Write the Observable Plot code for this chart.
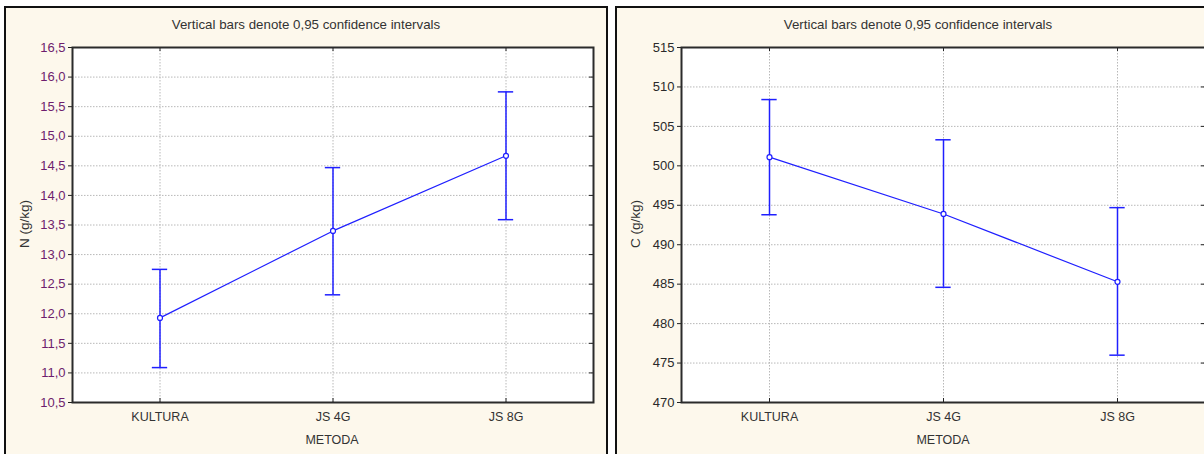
<!DOCTYPE html>
<html><head><meta charset="utf-8">
<script src="https://cdn.jsdelivr.net/npm/d3@7"></script>
<script src="https://cdn.jsdelivr.net/npm/@observablehq/plot@0.6"></script>
<style>
html,body{margin:0;padding:0;}
body{background:#fff;width:1204px;height:454px;overflow:hidden;position:relative;font-family:"Liberation Sans",Arial,sans-serif;}
.panel{position:absolute;top:6px;height:470px;box-sizing:border-box;border:2px solid #111;background:#fdf8ec;}
.chart{position:absolute;top:0;}
.chart svg{max-width:none !important;}
.lbl{position:absolute;white-space:nowrap;color:#333;line-height:1;}
.title{font-size:13.3px;transform:translate(-50%,-50%);}
.xt{font-size:12.5px;transform:translate(-50%,-50%);}
.yt{font-size:13.5px;transform:translate(-50%,-50%) rotate(-90deg);}
</style>
</head><body>
<div class="panel" style="left:4px;width:604px;"></div>
<div class="panel" style="left:615px;width:700px;"></div>
<div id="c1" class="chart" style="left:0px;width:607px;"></div>
<div id="c2" class="chart" style="left:610px;width:600px;"></div>
<div class="lbl title" style="left:306px;top:25px;">Vertical bars denote 0,95 confidence intervals</div>
<div class="lbl title" style="left:918px;top:25px;">Vertical bars denote 0,95 confidence intervals</div>
<div class="lbl xt" style="left:332px;top:440px;">METODA</div>
<div class="lbl xt" style="left:943px;top:440px;">METODA</div>
<div class="lbl yt" style="left:25px;top:224px;">N (g/kg)</div>
<div class="lbl yt" style="left:636px;top:224px;">C (g/kg)</div>
<script>
const methods = ["KULTURA", "JS 4G", "JS 8G"];
const nMean = [11.93, 13.40, 14.67];
const nLow  = [11.09, 12.32, 13.59];
const nHigh = [12.75, 14.47, 15.75];
const cMean = [501.1, 493.9, 485.3];
const cLow  = [493.8, 484.6, 476.0];
const cHigh = [508.4, 503.3, 494.7];
const nTicks = [10.5, 11.0, 11.5, 12.0, 12.5, 13.0, 13.5, 14.0, 14.5, 15.0, 15.5, 16.0, 16.5];
const cTicks = [470, 475, 480, 485, 490, 495, 500, 505, 510, 515];

const blue = "#1f1fff";

function chart({mean, low, high, ticks, fmt, width, ml, mr, tickColor}) {
  const data = methods.map((m, i) => ({m, mean: mean[i], low: low[i], high: high[i]}));
  const mt = 47, mb = 52, height = 454;
  const W = width - ml - mr, H = height - mt - mb;
  const capInset = W / methods.length / 2 - 8;
  return Plot.plot({
    width, height,
    marginLeft: ml, marginRight: mr, marginTop: mt, marginBottom: mb,
    style: {background: "transparent", overflow: "visible", maxWidth: "none", fontFamily: "'Liberation Sans', Arial, sans-serif"},
    x: {type: "band", domain: methods, padding: 0, axis: null},
    y: {domain: [ticks[0], ticks[ticks.length - 1]], axis: null},
    marks: [
      Plot.frame({fill: "white"}),
      Plot.gridY(ticks, {stroke: "#b8b8b8", strokeOpacity: 1, strokeDasharray: "1.5,1.5"}),
      Plot.gridX(methods, {stroke: "#b8b8b8", strokeOpacity: 1, strokeDasharray: "1.5,1.5"}),
      Plot.ruleY(ticks, {stroke: "#222", insetLeft: W - 4}),
      Plot.ruleX(methods, {stroke: "#222", insetTop: H - 4}),
      Plot.ruleX(methods, {stroke: "#222", insetBottom: H - 4}),
      Plot.axisY(ticks, {tickSize: 4, tickPadding: 3, tickFormat: fmt, fontSize: 13, fill: tickColor, stroke: "#222", label: null}),
      Plot.axisX(methods, {tickSize: 0, tickPadding: 10, fontSize: 12.5, fill: "#333", label: null}),
      Plot.ruleX(data, {x: "m", y1: "low", y2: "high", stroke: blue, strokeWidth: 1.5}),
      Plot.tickY(data, {x: "m", y: "low", insetLeft: capInset, insetRight: capInset, stroke: blue, strokeWidth: 1.5}),
      Plot.tickY(data, {x: "m", y: "high", insetLeft: capInset, insetRight: capInset, stroke: blue, strokeWidth: 1.5}),
      Plot.line(data, {x: "m", y: "mean", stroke: blue, strokeWidth: 1.2}),
      Plot.dot(data, {x: "m", y: "mean", r: 2.5, fill: "white", stroke: blue, strokeWidth: 1.2}),
      Plot.frame({stroke: "#2b2b2b", strokeWidth: 2})
    ]
  });
}

document.getElementById("c1").append(chart({
  mean: nMean, low: nLow, high: nHigh, ticks: nTicks,
  fmt: d => d.toFixed(1).replace(".", ","),
  width: 607, ml: 72, mr: 14, tickColor: "#6e1e6e"
}));
document.getElementById("c2").append(chart({
  mean: cMean, low: cLow, high: cHigh, ticks: cTicks,
  fmt: d => String(d),
  width: 600, ml: 71, mr: 5, tickColor: "#2a2a2a"
}));
</script>
</body></html>
